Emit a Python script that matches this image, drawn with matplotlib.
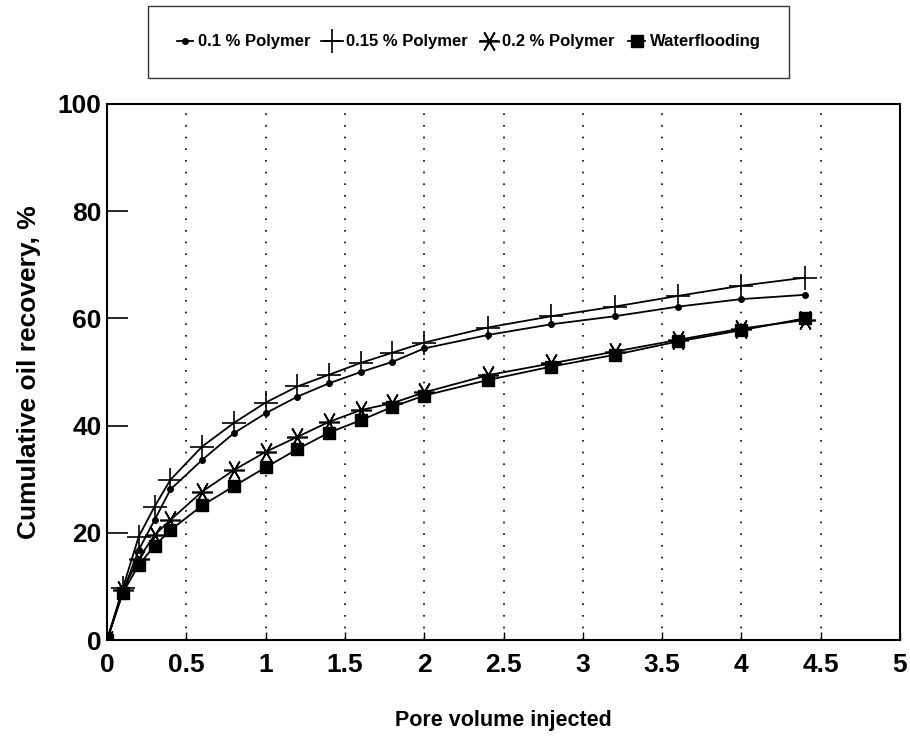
import matplotlib.pyplot as plt

plt.rcParams['font.family'] = ['Liberation Sans', 'DejaVu Sans']
plt.rcParams['font.weight'] = 'bold'

pv = [0, 0.1, 0.2, 0.3, 0.4, 0.6, 0.8, 1.0, 1.2, 1.4, 1.6, 1.8, 2.0, 2.4, 2.8, 3.2, 3.6, 4.0, 4.4]

poly_01 = [0, 9.0, 16.8, 22.4, 28.1, 33.6, 38.6, 42.3, 45.4, 47.9, 50.0, 51.9, 54.4, 56.9, 58.9, 60.4, 62.2, 63.6, 64.4]
poly_015 = [0, 9.7, 19.3, 24.9, 29.9, 36.1, 40.5, 44.3, 47.3, 49.5, 51.7, 53.6, 55.5, 58.3, 60.4, 62.2, 64.2, 66.1, 67.6]
poly_02 = [0, 9.3, 15.2, 19.6, 22.4, 27.7, 31.7, 35.1, 37.9, 40.7, 42.9, 44.2, 46.2, 49.4, 51.6, 53.8, 56.0, 58.1, 59.7]
water = [0, 8.8, 14.0, 17.6, 20.5, 25.1, 28.7, 32.2, 35.6, 38.7, 41.0, 43.5, 45.6, 48.5, 51.0, 53.2, 55.7, 57.8, 60.0]

labels = ['0.1 % Polymer', '0.15 % Polymer', '0.2 % Polymer', 'Waterflooding']

fig = plt.figure(figsize=(9.1, 7.36), dpi=100)
ax = fig.add_axes([0.1176, 0.1304, 0.8714, 0.7283])

ax.plot(pv, poly_01, color='black', lw=1.3, marker='o', ms=4, label=labels[0])
ax.plot(pv, poly_015, color='black', lw=1.3, marker='+', ms=17, mew=1.2, label=labels[1])
ax.plot(pv, poly_02, color='black', lw=1.3, marker=(6, 2, 90), ms=15, mew=1.2, label=labels[2])
ax.plot(pv, water, color='black', lw=1.3, marker='s', ms=8, label=labels[3])

ax.set_xlim(0, 5)
ax.set_ylim(0, 100)
ax.set_xticks([0, 0.5, 1, 1.5, 2, 2.5, 3, 3.5, 4, 4.5, 5])
ax.set_xticklabels(['0', '0.5', '1', '1.5', '2', '2.5', '3', '3.5', '4', '4.5', '5'])
ax.set_yticks([0, 20, 40, 60, 80, 100])
for x in [0.5, 1, 1.5, 2, 2.5, 3, 3.5, 4, 4.5]:
    ax.axvline(x, color='black', lw=1.2, ls=(0, (1, 6)), zorder=0)

ax.tick_params(axis='y', direction='in', length=15, width=1.2, labelsize=19, pad=4)
ax.tick_params(axis='x', direction='in', length=6, width=1, labelsize=19, pad=9)
for lab in ax.get_xticklabels() + ax.get_yticklabels():
    lab.set_fontweight('bold')
for s in ax.spines.values():
    s.set_linewidth(1.5)

ax.set_xlabel('Pore volume injected', fontsize=15.5, fontweight='bold', labelpad=24)
ax.set_ylabel('Cumulative oil recovery, %', fontsize=19, fontweight='bold', labelpad=12)

leg = fig.legend(loc='center', bbox_to_anchor=(0.515, 0.943), ncol=4,
                 handlelength=1.0, handletextpad=0.3, columnspacing=0.8,
                 fancybox=False, edgecolor='black', borderpad=1.7, borderaxespad=0,
                 prop={'weight': 'bold', 'size': 12})
leg.get_frame().set_linewidth(1.0)

fig.savefig('out.png', dpi=100)
